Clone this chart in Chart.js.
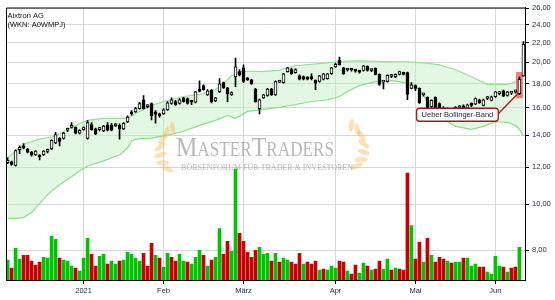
<!DOCTYPE html>
<html>
<head>
<meta charset="utf-8">
<script src="https://cdn.jsdelivr.net/npm/chart.js@4.4.1/dist/chart.umd.min.js"></script>
<style>
  html, body { margin: 0; padding: 0; background: #fff; }
</style>
</head>
<body>
<canvas id="chart" width="555" height="300"></canvas>
<script>
// Aixtron AG daily candles, Dec 2020 - Jun 2021 (x = trading day index)
const opens = [
  12.25,12.3,12.1,13.05,13.3,13.1,12.9,12.72,12.72,12.72,
  12.95,13.1,13.5,13.8,13.8,14.35,14.55,14.55,14.15,14.4,
  13.8,14.75,14.45,14.4,14.3,14.7,14.7,14.65,14.7,14.45,
  14.95,15.65,15.7,15.95,16.65,16.1,16.35,15.7,15.55,15.55,
  15.85,16.35,16.5,16.35,16.8,16.75,16.5,16.45,17.55,17.85,
  17.05,17.45,16.55,17.3,18.1,17.65,17.05,18.6,19.1,19.45,
  18.5,18.35,17.55,15.95,16.8,17.0,17.55,17.05,18.15,18.1,
  19.1,19.3,19.0,18.7,18.65,18.6,18.55,18.3,18.2,18.4,
  18.45,18.9,19.55,20.2,19.45,19.25,19.3,19.2,19.1,19.2,
  19.6,19.2,19.4,18.85,18.15,18.2,18.65,18.6,18.85,19.0,
  19.0,17.6,17.85,17.6,17.05,16.85,16.1,16.85,16.35,15.95,
  15.85,15.8,15.9,16.0,16.15,16.0,16.3,16.3,16.65,16.2,
  16.75,16.6,16.9,17.15,17.4,17.0,17.2,17.3,17.15,18.7
];
const highs = [
  12.55,12.35,13.05,13.3,13.45,13.15,12.95,13.0,12.75,13.0,
  13.1,13.7,14.2,13.85,14.2,14.5,14.9,14.6,14.4,14.6,
  15.05,14.9,14.5,14.55,14.7,14.9,14.85,14.85,14.8,14.9,
  15.4,15.8,16.05,16.45,17.0,16.25,16.4,15.8,15.6,15.95,
  16.5,16.8,16.6,16.75,16.85,16.8,16.6,17.35,18.25,17.9,
  17.5,17.5,16.85,18.45,18.15,17.7,17.3,20.4,19.3,19.75,
  18.55,18.4,17.6,16.7,17.1,17.6,17.6,18.25,18.3,18.95,
  19.5,19.4,19.35,18.8,18.7,18.65,18.9,18.35,18.75,18.95,
  18.95,19.5,19.9,20.5,19.5,19.4,19.4,19.3,19.2,19.7,
  19.65,19.35,19.45,18.9,18.3,18.8,18.85,18.9,19.15,19.05,
  19.05,18.1,17.9,17.65,17.2,16.9,16.65,16.9,16.4,16.1,
  16.0,15.95,16.1,16.2,16.25,16.3,16.4,16.8,16.7,16.7,
  16.9,16.95,17.35,17.3,17.45,17.35,17.35,17.45,18.6,22.1
];
const lows = [
  12.2,12.1,12.05,12.8,13.1,12.85,12.65,12.7,12.42,12.7,
  12.85,13.05,13.45,13.3,13.75,14.25,14.5,14.1,14.1,14.35,
  13.75,14.35,14.05,14.3,14.25,14.3,14.3,14.6,13.75,14.4,
  14.9,15.45,15.65,15.9,15.9,16.0,15.1,14.85,15.3,15.5,
  15.8,16.3,16.2,16.3,16.45,16.3,16.25,16.4,17.3,17.45,
  17.0,16.4,16.5,17.25,17.6,16.5,17.0,17.75,18.7,18.1,
  18.3,17.95,16.45,15.55,16.75,16.95,17.0,17.0,18.1,18.05,
  19.05,18.85,18.95,18.35,18.35,18.35,18.35,17.5,18.15,18.35,
  18.4,18.85,19.5,19.7,18.85,19.15,19.15,19.05,18.95,19.15,
  19.15,19.1,18.8,17.85,17.55,18.15,18.55,18.55,18.8,18.8,
  16.65,17.55,17.4,16.35,16.95,15.9,16.05,15.9,15.9,15.7,
  15.65,15.6,15.8,15.9,15.95,15.95,16.1,16.25,16.35,16.15,
  16.65,16.55,16.85,17.05,16.9,16.95,17.1,17.2,17.1,18.65
];
const closes = [
  12.4,12.15,13.0,13.2,13.15,12.9,12.72,12.97,12.6,12.97,
  13.0,13.67,14.05,13.6,14.15,14.4,14.6,14.15,14.35,14.5,
  14.9,14.4,14.1,14.45,14.65,14.35,14.35,14.75,14.45,14.85,
  15.3,15.55,15.95,16.35,15.95,16.15,15.4,15.5,15.4,15.85,
  16.4,16.65,16.25,16.65,16.5,16.35,16.45,17.3,17.35,17.5,
  17.4,16.5,16.8,18.0,17.65,17.15,17.25,19.55,18.8,18.2,
  18.35,18.0,16.5,16.65,17.05,17.55,17.05,18.2,18.2,18.9,
  19.45,18.9,19.3,18.4,18.4,18.4,18.45,18.05,18.7,18.9,
  18.9,19.45,19.8,19.75,18.9,19.3,19.25,19.15,19.05,19.65,
  19.2,19.25,18.85,17.95,18.2,18.75,18.7,18.85,19.1,18.85,
  17.1,17.9,17.6,16.4,17.1,15.95,16.6,15.95,15.95,15.85,
  15.8,15.9,16.0,16.1,16.0,16.25,16.2,16.75,16.4,16.65,
  16.8,16.9,17.3,17.2,16.95,17.3,17.25,17.35,18.4,21.8
];

// volume (relative units), last day has none yet
const volumes = [
  20,12,32,21,25,25,19,15,18,23,
  22,44,41,22,20,19,14,12,9,22,
  42,26,14,24,26,16,19,16,19,20,
  28,26,22,19,27,14,37,25,22,13,
  27,23,19,26,19,18,16,23,30,25,
  14,20,23,52,26,39,29,112,47,39,
  28,23,30,33,26,27,19,27,18,22,
  20,18,16,27,16,18,16,19,10,11,
  10,14,12,19,18,9,6,15,7,17,
  14,10,11,19,11,21,10,12,11,10,
  108,55,21,38,18,42,25,18,23,21,
  19,17,18,18,22,22,14,16,13,13,
  8,6,24,14,13,8,12,13,33
];
const volumeUp = [
  1,0,1,1,0,0,0,0,0,1,
  1,1,1,0,1,1,1,0,1,1,
  1,0,0,1,1,0,1,1,0,1,
  1,1,1,1,0,0,0,1,0,1,
  1,0,0,1,1,0,1,1,1,0,
  1,0,1,1,0,0,1,1,0,0,
  0,0,0,1,1,1,0,1,0,1,
  1,0,0,0,1,0,0,0,1,0,
  1,1,1,0,0,1,0,0,1,1,
  0,1,0,0,1,1,0,1,0,0,
  0,1,0,0,1,0,1,0,0,0,
  1,0,1,1,0,1,1,1,0,0,
  1,1,1,1,0,1,0,0,1
];

// Bollinger bands at these day indices
const upperIdx = [0,2,4,8,12,16,20,24,28,30,32,36,40,44,48,52,54,56,58,60,64,68,72,76,80,84,88,92,96,100,104,108,112,116,120,124,126,128,129];
const upperBand = [12.54,12.97,13.41,13.74,13.94,14.56,15.06,15.21,15.21,15.21,15.58,16.20,16.59,16.92,17.08,17.50,18.01,18.72,19.09,19.13,19.09,19.23,19.65,19.79,19.93,20.08,20.13,20.08,20.03,20.03,19.93,19.74,19.27,18.63,17.93,17.93,18.01,18.3,19.27];
const lowerIdx = [0,2,4,6,8,10,12,14,16,18,20,24,28,30,31,32,36,40,44,48,52,55,57,58,60,64,68,72,76,80,83,85,88,92,96,98,101,103,105,107,109,112,116,119,122,125,127,128,129];
const lowerBand = [9.34,9.34,9.38,9.61,10.04,10.49,10.85,11.16,11.44,11.77,12.06,12.36,12.72,13.16,13.61,13.74,13.81,14.01,14.28,14.70,15.06,15.43,15.21,15.36,15.73,15.89,16.04,16.27,16.51,16.63,16.92,17.33,17.84,18.19,18.28,18.19,17.93,17.50,16.51,15.73,15.14,14.63,14.42,14.63,14.96,14.92,14.70,14.42,13.94];

const priceTicks = [8,10,12,14,16,18,20,22,24,26];
const monthIdx = [19,39,59,82,102,122];
const monthLabels = ['2021','Feb','März','Apr','Mai','Jun'];

const highlightIdx = 128;
const noteText = 'Ueber Bollinger-Band';
const notePos = [112.5, 15.48];

const FONT = '"Liberation Sans", Arial, sans-serif';
Chart.defaults.font.family = FONT;

function drawWatermark(ctx, a) {
  const cx = a.left + 249, base = a.top + 148;
  ctx.save();
  // laurels
  ctx.fillStyle = 'rgba(242,188,104,0.45)';
  [[a.left + 158, a.top + 141, 1], [a.left + 354, a.top + 138, -1]].forEach(([lx, ly, dir]) => {
    for (let k = 0; k < 7; k++) {
      const t = Math.PI * (0.62 + k * 0.11);
      const px = lx + dir * (16 + 20 * Math.cos(t));
      const py = ly + 24 * Math.sin(t) * -1 + 2;
      ctx.save();
      ctx.translate(px, py);
      ctx.rotate(dir * (t - Math.PI / 2) - dir * 0.5);
      ctx.beginPath();
      ctx.ellipse(0, 0, 2.6, 6.5, 0, 0, Math.PI * 2);
      ctx.fill();
      ctx.restore();
    }
  });
  // small-caps logo text
  const parts = [['M', 28], ['ASTER', 20], ['T', 28], ['RADERS', 20]];
  let total = 0;
  parts.forEach(([s, f]) => { ctx.font = f + 'px "Liberation Serif", serif'; total += ctx.measureText(s).width; });
  const target = 158;
  ctx.translate(cx - target / 2, base);
  ctx.scale(target / total, 1);
  ctx.fillStyle = 'rgba(160,160,160,0.75)';
  let xx = 0;
  parts.forEach(([s, f]) => {
    ctx.font = f + 'px "Liberation Serif", serif';
    ctx.fillText(s, xx, 0);
    xx += ctx.measureText(s).width;
  });
  ctx.restore();
  ctx.save();
  ctx.fillStyle = 'rgba(165,165,165,0.8)';
  ctx.font = '8px "Liberation Serif", serif';
  ctx.textAlign = 'center';
  ctx.fillText('BÖRSENFORUM FÜR TRADER & INVESTOREN', cx + 12, base + 14, 178);
  ctx.restore();
}

const decorPlugin = {
  id: 'decor',
  afterDatasetDraw(chart, args) {
    if (args.index !== 1) return;
    const {ctx, chartArea: a, scales: {x, y}} = chart;
    drawWatermark(ctx, a);
    const k = highlightIdx;
    const x0 = x.getPixelForValue(k - 0.85), x1 = x.getPixelForValue(k + 0.85);
    const y0 = y.getPixelForValue(highs[k]) - 5, y1 = y.getPixelForValue(lows[k]) + 4;
    ctx.save();
    ctx.fillStyle = 'rgba(240,96,84,0.8)';
    ctx.fillRect(x0, y0, x1 - x0, y1 - y0);
    ctx.restore();
  },
  afterDatasetsDraw(chart) {
    const {ctx, scales: {x, y}} = chart;
    const k = highlightIdx;
    ctx.save();
    ctx.font = '7.5px ' + FONT;
    const bw = ctx.measureText(noteText).width + 10, bh = 13;
    const bx = x.getPixelForValue(notePos[0]) - bw / 2;
    const by = y.getPixelForValue(notePos[1]) - bh / 2;
    ctx.strokeStyle = '#a3181b';
    ctx.lineWidth = 1.3;
    ctx.beginPath();
    ctx.moveTo(bx + bw, by + bh / 2 - 1);
    ctx.lineTo(x.getPixelForValue(k - 0.3), y.getPixelForValue(lows[k]) - 1);
    ctx.stroke();
    ctx.beginPath();
    ctx.roundRect(bx, by, bw, bh, 3);
    ctx.fillStyle = '#fff';
    ctx.fill();
    ctx.stroke();
    ctx.fillStyle = '#1c2440';
    ctx.textAlign = 'center';
    ctx.textBaseline = 'middle';
    ctx.fillText(noteText, bx + bw / 2, by + bh / 2 + 0.5);
    ctx.restore();
  },
  afterDraw(chart) {
    const {ctx, chartArea: a} = chart;
    ctx.save();
    ctx.strokeStyle = '#000';
    ctx.lineWidth = 1;
    ctx.beginPath();
    ctx.moveTo(a.left + 0.5, a.bottom);
    ctx.lineTo(a.left + 0.5, a.top + 0.5);
    ctx.lineTo(a.right, a.top + 0.5);
    ctx.stroke();
    ctx.fillStyle = '#111';
    ctx.font = '7.5px ' + FONT;
    ctx.fillText('Aixtron AG', a.left + 1.5, a.top + 10);
    ctx.fillText('(WKN: A0WMPJ)', a.left + 1.5, a.top + 19);
    ctx.restore();
  }
};

new Chart(document.getElementById('chart'), {
  type: 'bar',
  data: {
    datasets: [
      {
        type: 'line', yAxisID: 'y', order: 11,
        data: upperIdx.map((v, k) => ({x: v, y: upperBand[k]})),
        borderColor: '#8edb8e', borderWidth: 1.2, pointRadius: 0, fill: false, tension: 0
      },
      {
        type: 'line', yAxisID: 'y', order: 10,
        data: lowerIdx.map((v, k) => ({x: v, y: lowerBand[k]})),
        borderColor: '#8edb8e', borderWidth: 1.2, pointRadius: 0, tension: 0,
        fill: '-1', backgroundColor: 'rgba(190,240,190,0.45)'
      },
      {
        yAxisID: 'v', order: 5, grouped: false, barThickness: 3,
        data: volumes.map((v, i) => ({x: i, y: v})),
        backgroundColor: volumeUp.map(u => u ? '#00c200' : '#c40000')
      },
      {
        yAxisID: 'y', order: 2, grouped: false, barThickness: 1,
        data: highs.map((h, i) => ({x: i, y: [lows[i], h]})),
        backgroundColor: '#000'
      },
      {
        yAxisID: 'y', order: 1, grouped: false, barThickness: 3, minBarLength: 2,
        data: opens.map((o, i) => ({x: i, y: [o, closes[i]]})),
        backgroundColor: opens.map((o, i) => closes[i] >= o ? '#fff' : '#000'),
        borderColor: '#000', borderWidth: 1, borderSkipped: false
      }
    ]
  },
  options: {
    responsive: false,
    animation: false,
    devicePixelRatio: 1,
    events: [],
    layout: {padding: {left: 6, top: 5, right: 0, bottom: 0}},
    plugins: {legend: {display: false}, tooltip: {enabled: false}},
    scales: {
      x: {
        type: 'linear', min: -0.4, max: 129.4, offset: false, bounds: 'data',
        grid: {offset: false, color: '#d6d6d6', tickColor: '#000', tickLength: 4},
        border: {color: '#000'},
        ticks: {
          autoSkip: false, maxRotation: 0, padding: 2, color: '#1c2440',
          font: {size: 7.5},
          callback: (v, k) => monthLabels[k]
        },
        afterBuildTicks: s => { s.ticks = monthIdx.map(v => ({value: v})); },
        afterFit: s => { s.height = 20; }
      },
      y: {
        type: 'logarithmic', position: 'right', min: 6.92, max: 26.1, bounds: 'data',
        grid: {color: '#d6d6d6', tickColor: '#000', tickLength: 4},
        border: {color: '#000'},
        ticks: {
          autoSkip: false, padding: 3, color: '#1c2440',
          font: {size: 7.5},
          callback: v => Number(v).toFixed(2).replace('.', ',')
        },
        afterBuildTicks: s => { s.ticks = priceTicks.map(v => ({value: v})); },
        afterFit: s => { s.width = 30; }
      },
      v: {type: 'linear', display: false, min: 0, max: 275}
    }
  },
  plugins: [decorPlugin]
});
</script>
</body>
</html>
